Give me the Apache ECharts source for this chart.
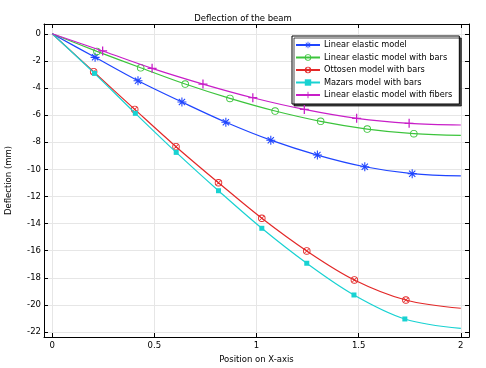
<!DOCTYPE html>
<html>
<head>
<meta charset="utf-8">
<script src="https://cdn.jsdelivr.net/npm/echarts@6/dist/echarts.min.js"></script>
<style>
html,body{margin:0;padding:0;background:#fff;}
#main{width:486px;height:368px;}
</style>
</head>
<body>
<div id="main"></div>
<script>
// ---- data ----
const seriesNames = [
  'Linear elastic model',
  'Linear elastic model with bars',
  'Ottosen model with bars',
  'Mazars model with bars',
  'Linear elastic model with fibers'
];
const xLinear  = [0, 0.21, 0.42, 0.635, 0.85, 1.07, 1.298, 1.53, 1.762, 2.0];
const yLinear  = [0, -1.74, -3.47, -5.04, -6.53, -7.85, -8.95, -9.81, -10.32, -10.49];
const xBars    = [0, 0.219, 0.433, 0.651, 0.87, 1.091, 1.314, 1.542, 1.77, 2.0];
const yBars    = [0, -1.30, -2.51, -3.71, -4.77, -5.70, -6.46, -7.03, -7.37, -7.50];
const xOttosen = [0, 0.203, 0.404, 0.606, 0.814, 1.026, 1.246, 1.479, 1.731, 2.0];
const yOttosen = [0, -2.80, -5.58, -8.33, -10.99, -13.61, -16.02, -18.16, -19.64, -20.25];
const xMazars  = [0, 0.207, 0.407, 0.607, 0.814, 1.026, 1.246, 1.477, 1.726, 2.0];
const yMazars  = [0, -2.92, -5.87, -8.75, -11.58, -14.35, -16.93, -19.27, -21.04, -21.73];
const xFibers  = [0, 0.247, 0.489, 0.738, 0.982, 1.234, 1.49, 1.747, 2.0];
const yFibers  = [0, -1.27, -2.55, -3.71, -4.72, -5.58, -6.24, -6.61, -6.73];
const xTicks = [0, 0.5, 1, 1.5, 2];
const yTicks = [-22, -20, -18, -16, -14, -12, -10, -8, -6, -4, -2, 0];

// ---- styling ----
const FONT = 'DejaVu Sans';
const FS = 8.5;
const colors = ['#1f45ff', '#3cc43c', '#e32828', '#18d2d2', '#c81ec8'];
const asterisk = 'path://M-0.6,-5L0.6,-5L0.6,5L-0.6,5Z M-5,-0.6L5,-0.6L5,0.6L-5,0.6Z M-3.9,-3.05L-3.05,-3.9L3.9,3.05L3.05,3.9Z M3.05,-3.9L3.9,-3.05L-3.05,3.9L-3.9,3.05Z';
const ring = 'path://M0,-5A5,5 0 1,1 0,5A5,5 0 1,1 0,-5Z M0,-3.8A3.8,3.8 0 1,0 0,3.8A3.8,3.8 0 1,0 0,-3.8Z';
const ringX = 'path://M0,-5A5,5 0 1,1 0,5A5,5 0 1,1 0,-5Z M0,-3.8A3.8,3.8 0 1,0 0,3.8A3.8,3.8 0 1,0 0,-3.8Z M-3.1,-2.4L-2.4,-3.1L3.1,2.4L2.4,3.1Z M2.4,-3.1L3.1,-2.4L-2.4,3.1L-3.1,2.4Z';
const plus = 'path://M-0.7,-5L0.7,-5L0.7,5L-0.7,5Z M-5,-0.7L5,-0.7L5,0.7L-5,0.7Z';
const symbols = [asterisk, ring, ringX, 'rect', plus];
const symbolSizes = [9, 7.5, 7.5, 5, 9];

const xs = [xLinear, xBars, xOttosen, xMazars, xFibers];
const ys = [yLinear, yBars, yOttosen, yMazars, yFibers];

function buildData(x, y) {
  return x.map((v, i) => {
    const item = { value: [v, y[i]] };
    if (i === 0 || i === x.length - 1) item.symbol = 'none';
    return item;
  });
}

const series = seriesNames.map((name, k) => ({
  name: name,
  type: 'line',
  xAxisIndex: 0,
  yAxisIndex: 0,
  data: buildData(xs[k], ys[k]),
  smooth: 0.35,
  symbol: symbols[k],
  symbolSize: symbolSizes[k],
  showAllSymbol: true,
  lineStyle: { color: colors[k], width: 1.2 },
  itemStyle: { color: colors[k], borderWidth: 0 },
  emphasis: { disabled: true },
  z: 3 + k
}));

const axisLineStyle = { show: true, onZero: false, lineStyle: { color: '#000', width: 1 } };
const tickLine = { color: '#000', width: 1 };

const option = {
  animation: false,
  backgroundColor: '#fff',
  title: {
    text: 'Deflection of the beam',
    left: 'center',
    top: 14,
    padding: 0,
    textStyle: { fontFamily: FONT, fontSize: FS, fontWeight: 'normal', color: '#000' }
  },
  legend: {
    orient: 'vertical',
    left: 292,
    top: 36,
    padding: [5, 7, 5, 3],
    itemWidth: 24,
    itemHeight: 8,
    itemGap: 4.5,
    backgroundColor: '#fff',
    borderColor: '#000',
    borderWidth: 1,
    borderRadius: 0,
    shadowColor: 'rgba(0,0,0,0.7)',
    shadowBlur: 0,
    shadowOffsetX: 2,
    shadowOffsetY: 2,
    textStyle: { fontFamily: FONT, fontSize: 8.2, lineHeight: 8, color: '#000', padding: [0, 0, 0, -1] },
    data: seriesNames
  },
  grid: { left: 44, right: 17, top: 24, bottom: 31, containLabel: false, outerBoundsMode: 'none' },
  xAxis: [
    {
      type: 'value', min: -0.04, max: 2.04, position: 'bottom',
      name: 'Position on X-axis', nameLocation: 'middle', nameGap: 11,
      nameTextStyle: { fontFamily: FONT, fontSize: FS, color: '#000' },
      axisLine: axisLineStyle,
      axisTick: { show: true, inside: true, length: 4, customValues: xTicks, lineStyle: tickLine },
      axisLabel: { show: true, margin: 4, customValues: xTicks, fontFamily: FONT, fontSize: FS, color: '#000',
                   formatter: v => String(v) },
      splitLine: { show: true, lineStyle: { color: '#e6e6e6', width: 1 } }
    },
    {
      type: 'value', min: -0.04, max: 2.04, position: 'top',
      axisLine: axisLineStyle,
      axisTick: { show: true, inside: true, length: 4, customValues: xTicks, lineStyle: tickLine },
      axisLabel: { show: false },
      splitLine: { show: false }
    }
  ],
  yAxis: [
    {
      type: 'value', min: -22.37, max: 0.72, position: 'left',
      name: 'Deflection (mm)', nameLocation: 'middle', nameGap: 31,
      nameTextStyle: { fontFamily: FONT, fontSize: FS, color: '#000' },
      axisLine: axisLineStyle,
      axisTick: { show: true, inside: true, length: 4, customValues: yTicks, lineStyle: tickLine },
      axisLabel: { show: true, margin: 3, customValues: yTicks, fontFamily: FONT, fontSize: FS, color: '#000',
                   formatter: v => String(v) },
      splitLine: { show: true, lineStyle: { color: '#e6e6e6', width: 1 } }
    },
    {
      type: 'value', min: -22.37, max: 0.72, position: 'right',
      axisLine: axisLineStyle,
      axisTick: { show: true, inside: true, length: 4, customValues: yTicks, lineStyle: tickLine },
      axisLabel: { show: false },
      splitLine: { show: false }
    }
  ],
  series: series
};

const chart = echarts.init(document.getElementById('main'), null, { renderer: 'canvas' });
chart.setOption(option);
</script>
</body>
</html>
